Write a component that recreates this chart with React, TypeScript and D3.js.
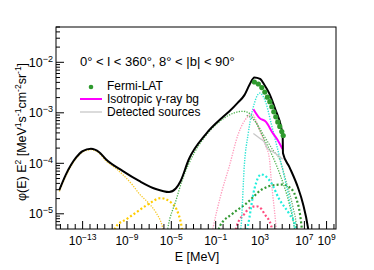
import React, { useEffect, useRef } from 'react';
import * as d3 from 'd3';

// all curves are [log10 E (MeV), log10 (phi E^2)]
const totalCurve: [number, number][] = [
  [-15.1, -4.53], [-14.5, -4.22], [-13.6, -3.89], [-13.0, -3.76], [-12.25, -3.71], [-11.5, -3.78],
  [-10.9, -3.92], [-9.4, -4.15], [-7.9, -4.35], [-6.4, -4.51], [-5.2, -4.57], [-4.6, -4.5],
  [-4.16, -4.35], [-3.42, -3.92], [-1.92, -3.43], [-0.33, -3.08], [0.24, -2.97], [1.0, -2.8],
  [1.59, -2.65], [2.04, -2.45], [2.49, -2.3], [3.0, -2.33], [3.4, -2.45], [3.84, -2.62],
  [4.38, -2.93], [4.95, -3.33], [5.04, -3.45], [5.07, -3.8], [5.66, -4.08], [6.42, -4.48],
  [6.87, -4.8], [7.31, -5.26], [7.4, -5.4],
];
const synchThin: [number, number][] = [
  [-15.1, -4.56], [-14.5, -4.25], [-13.6, -3.91], [-13.0, -3.78], [-12.25, -3.73], [-11.5, -3.8],
  [-10.9, -3.95], [-10.0, -4.1], [-9.4, -4.22], [-8.5, -4.43], [-7.9, -4.6], [-7.0, -4.8],
  [-6.4, -4.97], [-5.8, -5.26], [-5.65, -5.4],
];
const synchThick: [number, number][] = [
  [-10.2, -5.4], [-10.01, -5.26], [-9.0, -5.1], [-8.21, -4.98], [-7.01, -4.8], [-5.96, -4.69],
  [-5.06, -4.77], [-4.32, -5.03], [-4.07, -5.26], [-3.98, -5.4],
];
const icThin: [number, number][] = [
  [-5.4, -5.4], [-5.31, -5.28], [-4.6, -4.75], [-4.01, -4.33], [-2.9, -3.78], [-1.92, -3.46],
  [-0.33, -3.12], [0.69, -3.0], [1.47, -2.97], [2.04, -3.01], [2.64, -3.2], [3.23, -3.46],
  [4.13, -3.86], [4.73, -4.18], [5.63, -4.8], [6.08, -5.25], [6.18, -5.4],
];
const icThin2: [number, number][] = [
  [1.8, -3.05], [2.6, -3.18], [3.4, -3.47], [4.2, -3.75], [4.76, -3.92], [5.4, -4.4],
  [6.0, -4.9], [6.26, -5.2], [6.34, -5.4],
];
const pinkThin: [number, number][] = [
  [-1.35, -5.4], [-1.22, -5.26], [-0.5, -4.6], [0.24, -4.05], [1.02, -3.43], [1.92, -3.07],
  [2.25, -3.02], [2.94, -3.33], [3.5, -3.65], [3.84, -3.9], [4.0, -4.3], [4.44, -5.25], [4.5, -5.4],
];
const pinkThick: [number, number][] = [
  [0.75, -5.4], [0.87, -5.26], [1.59, -5.0], [2.1, -4.88], [2.67, -4.85], [3.1, -4.9],
  [3.39, -5.0], [4.02, -5.25], [4.1, -5.4],
];
const cyanThin: [number, number][] = [
  [1.2, -5.4], [1.29, -5.25], [1.59, -4.02], [1.92, -3.43], [2.49, -2.81], [2.96, -2.61],
  [3.54, -2.81], [3.99, -3.2], [4.44, -3.59], [5.03, -4.12], [5.63, -4.71], [6.08, -5.26], [6.15, -5.4],
];
const cyanThick: [number, number][] = [
  [1.75, -5.4], [1.89, -5.26], [2.49, -4.51], [3.09, -4.22], [3.99, -4.38], [4.73, -4.71],
  [5.63, -5.0], [6.24, -5.26], [6.3, -5.4],
];
const greenThick: [number, number][] = [
  [-0.8, -5.4], [-0.66, -5.26], [0.51, -5.0], [1.74, -4.8], [3.23, -4.51], [4.29, -4.43],
  [5.1, -4.42], [5.63, -4.47], [6.24, -4.68], [6.6, -5.0], [6.75, -5.26], [6.82, -5.4],
];
const isotropicBg: [number, number][] = [
  [2.4, -2.93], [2.94, -3.1], [3.54, -3.18], [4.11, -3.39], [4.56, -3.53], [5.03, -3.72],
];
const detectedSources: [number, number][] = [
  [2.4, -3.41], [2.94, -3.5], [3.39, -3.58], [3.68, -3.71], [4.29, -3.79], [4.73, -3.86], [5.03, -3.92],
];
const fermiLat: [number, number][] = [
  [2.49, -2.39], [2.85, -2.43], [3.16, -2.5], [3.43, -2.59], [3.66, -2.69], [3.88, -2.78],
  [4.06, -2.88], [4.24, -2.98], [4.42, -3.08], [4.6, -3.18], [4.78, -3.27], [4.96, -3.37], [5.09, -3.45],
];

const xLabelExps = [-13, -9, -5, -1, 3, 7, 9];
const yLabelExps = [-5, -4, -3, -2];

const FONT = '"Liberation Sans", Arial, sans-serif';

const App: React.FC = () => {
  const svgRef = useRef<SVGSVGElement>(null);

  useEffect(() => {
    if (!svgRef.current) return;
    const svg = d3.select(svgRef.current);
    svg.selectAll('*').remove();

    const left = 56, right = 336, top = 27, bottom = 229;
    const x = d3.scaleLog().domain([Math.pow(10, -15.4), Math.pow(10, 9.85)]).range([left, right]);
    const y = d3.scaleLog().domain([5e-6, 5e-2]).range([bottom, top]);

    svg.append('defs').append('clipPath').attr('id', 'plotclip')
      .append('rect').attr('x', left).attr('y', top).attr('width', right - left).attr('height', bottom - top);

    const line = d3.line<[number, number]>()
      .x(d => x(Math.pow(10, d[0])))
      .y(d => y(Math.pow(10, d[1])))
      .curve(d3.curveMonotoneX);

    const plot = svg.append('g').attr('clip-path', 'url(#plotclip)');

    const thin = '1.3 1.3';
    const thick = '2 2.2';
    const series: { data: [number, number][]; color: string; width: number; dash?: string }[] = [
      { data: synchThin, color: '#f7c928', width: 1.3, dash: thin },
      { data: synchThick, color: '#ffcc00', width: 2.2, dash: thick },
      { data: pinkThin, color: '#ff99bb', width: 1.3, dash: thin },
      { data: pinkThick, color: '#ff4d80', width: 2.2, dash: thick },
      { data: greenThick, color: '#339933', width: 2.2, dash: thick },
      { data: cyanThick, color: '#22eedd', width: 2.2, dash: thick },
      { data: icThin2, color: '#66aa66', width: 1.2, dash: thin },
      { data: icThin, color: '#4fb34f', width: 1.3, dash: thin },
      { data: cyanThin, color: '#2ee3d3', width: 1.4, dash: thin },
      { data: detectedSources, color: '#c8c8c8', width: 1.3 },
      { data: isotropicBg, color: '#ff00ff', width: 2 },
      { data: totalCurve, color: '#000000', width: 2 },
    ];

    series.forEach(s => {
      plot.append('path')
        .datum(s.data)
        .attr('fill', 'none')
        .attr('stroke', s.color)
        .attr('stroke-width', s.width)
        .attr('stroke-dasharray', s.dash ?? null)
        .attr('d', line);
    });

    // Fermi-LAT points
    plot.selectAll('circle.fermi')
      .data(fermiLat)
      .enter().append('circle')
      .attr('cx', d => x(Math.pow(10, d[0])))
      .attr('cy', d => y(Math.pow(10, d[1])))
      .attr('r', 2.6)
      .attr('fill', '#2e9a2e');

    // Frame
    svg.append('rect')
      .attr('x', left).attr('y', top)
      .attr('width', right - left).attr('height', bottom - top)
      .attr('fill', 'none').attr('stroke', '#000').attr('stroke-width', 1);

    // X ticks: every 2/3 decade
    const xt = svg.append('g').attr('stroke', '#000').attr('stroke-width', 1);
    for (let k = -3; k <= 35; k++) {
      const e = -13 + (k * 2) / 3;
      const px = x(Math.pow(10, e));
      if (px < left || px > right) continue;
      const major = xLabelExps.some(v => Math.abs(v - e) < 1e-6);
      xt.append('line').attr('x1', px).attr('x2', px)
        .attr('y1', bottom).attr('y2', bottom - (major ? 8 : 5));
    }

    // Y ticks
    const yt = svg.append('g').attr('stroke', '#000').attr('stroke-width', 1);
    for (let p = -6; p <= -2; p++) {
      for (let m = 1; m <= 9; m++) {
        const v = m * Math.pow(10, p);
        if (v < 5e-6 || v > 5e-2) continue;
        const py = y(v);
        yt.append('line').attr('x1', left).attr('x2', left + (m === 1 ? 8 : 4))
          .attr('y1', py).attr('y2', py);
      }
    }

    // X labels
    xLabelExps.forEach(e => {
      const t = svg.append('text')
        .attr('x', x(Math.pow(10, e)))
        .attr('y', 245)
        .attr('text-anchor', 'middle')
        .attr('font-family', FONT)
        .attr('font-size', 12);
      t.append('tspan').text('10');
      t.append('tspan').attr('dy', -5).attr('font-size', 8.5).text(e < 0 ? `\u2212${-e}` : `${e}`);
    });

    // Y labels
    yLabelExps.forEach(e => {
      const t = svg.append('text')
        .attr('x', 53)
        .attr('y', y(Math.pow(10, e)) + 4.5)
        .attr('text-anchor', 'end')
        .attr('font-family', FONT)
        .attr('font-size', 12.5);
      t.append('tspan').text('10');
      t.append('tspan').attr('dy', -5).attr('font-size', 9).text(`\u2212${-e}`);
    });

    // Axis titles
    svg.append('text')
      .attr('x', 197).attr('y', 261)
      .attr('text-anchor', 'middle')
      .attr('font-family', FONT).attr('font-size', 12.5)
      .text('E [MeV]');

    const yt2 = svg.append('text')
      .attr('transform', `translate(26,${(top + bottom) / 2 + 4}) rotate(-90)`)
      .attr('text-anchor', 'middle')
      .attr('font-family', FONT).attr('font-size', 12.5);
    const parts: [string, boolean][] = [
      ['\u03c6(E) E', false], ['2', true], [' [MeV', false], ['1', true], ['s', false], ['-1', true],
      ['cm', false], ['-2', true], ['sr', false], ['-1', true], [']', false],
    ];
    let raised = false;
    parts.forEach(([txt, sup]) => {
      const ts = yt2.append('tspan').text(txt);
      if (sup && !raised) { ts.attr('dy', -5).attr('font-size', 8.5); raised = true; }
      else if (sup) { ts.attr('font-size', 8.5); }
      else if (raised) { ts.attr('dy', 5); raised = false; }
    });

    // Region label
    svg.append('text')
      .attr('x', 80).attr('y', 66)
      .attr('font-family', FONT).attr('font-size', 13)
      .text('0\u00b0 < l < 360\u00b0, 8\u00b0 < |b| < 90\u00b0');

    // Legend
    const lg = svg.append('g').attr('font-family', FONT).attr('font-size', 12);
    lg.append('circle').attr('cx', 91).attr('cy', 87).attr('r', 2.3).attr('fill', '#2e9a2e');
    lg.append('text').attr('x', 107).attr('y', 90).text('Fermi-LAT');
    lg.append('line').attr('x1', 80).attr('x2', 102).attr('y1', 99).attr('y2', 99)
      .attr('stroke', '#ff00ff').attr('stroke-width', 2);
    lg.append('text').attr('x', 107).attr('y', 102.5).text('Isotropic \u03b3-ray bg');
    lg.append('line').attr('x1', 80).attr('x2', 102).attr('y1', 112).attr('y2', 112)
      .attr('stroke', '#c8c8c8').attr('stroke-width', 1.3);
    lg.append('text').attr('x', 107).attr('y', 115.5).text('Detected sources');
  }, []);

  return (
    <div style={{ position: 'absolute', left: 0, top: 0 }}>
      <svg ref={svgRef} width={374} height={270} viewBox="0 0 374 270" style={{ display: 'block', background: '#fff' }} />
    </div>
  );
};

export default App;
